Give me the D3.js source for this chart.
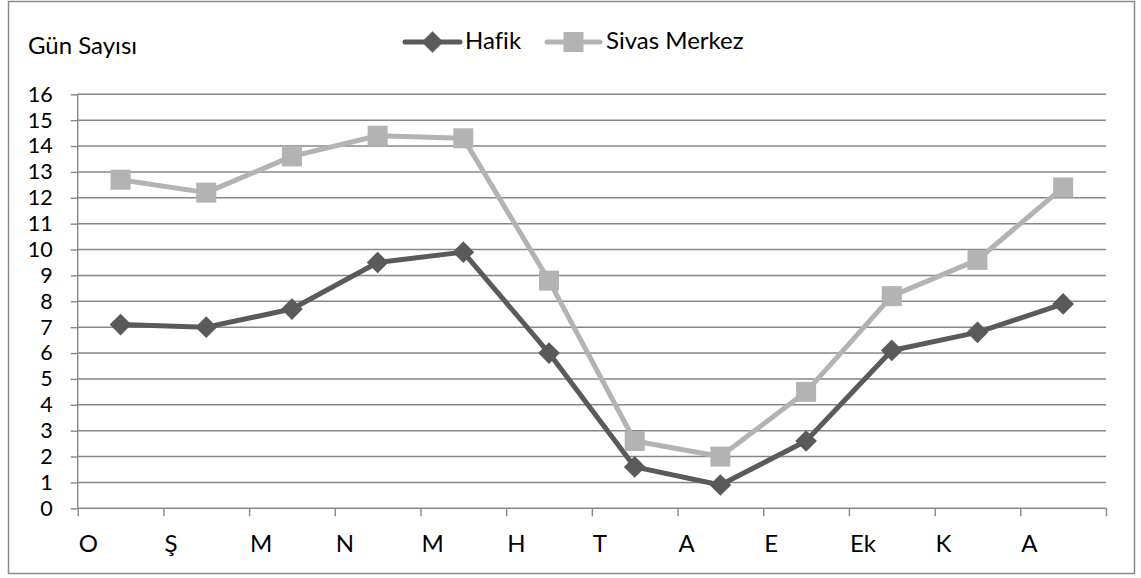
<!DOCTYPE html>
<html><head><meta charset="utf-8">
<script src="https://cdn.jsdelivr.net/npm/d3@7"></script>
<style>body{margin:0;background:#fff;} text{font-family:Lato,"Open Sans",sans-serif;fill:#000;font-variant-ligatures:none;font-feature-settings:"liga" 0;}</style>
</head><body>
<svg id="c" width="1141" height="578"></svg>
<script>
const categories = ["O","Ş","M","N","M","H","T","A","E","Ek","K","A"];
const hafik = [7.1,7.0,7.7,9.5,9.9,6.0,1.6,0.9,2.6,6.1,6.8,7.9];
const sivas = [12.7,12.2,13.6,14.4,14.3,8.8,2.6,2.0,4.5,8.2,9.6,12.4];
const yTicks = d3.range(0,17);
const seriesNames = ["Hafik","Sivas Merkez"];

const svg = d3.select("#c");
const L=77.7, R=1106, T=94.3, B=508.3;
const grid="#878787";
const FS=24;
svg.append("rect").attr("x",8.5).attr("y",1.5).attr("width",1126).attr("height",572)
  .attr("fill","#fff").attr("stroke","#8a8a8a").attr("stroke-width",1.5);

const x = d3.scaleBand().domain(d3.range(categories.length)).range([L,R]).padding(0);
const y = d3.scaleLinear().domain([0,16]).range([B,T]);

// gridlines
svg.append("g").selectAll("line").data(yTicks.filter(d=>d>0)).join("line")
  .attr("x1",L).attr("x2",R).attr("y1",d=>y(d)).attr("y2",d=>y(d))
  .attr("stroke",grid).attr("stroke-width",1.4);

// y axis
const ya = svg.append("g").attr("transform",`translate(${L},0)`)
  .call(d3.axisLeft(y).tickValues(yTicks).tickSize(7).tickPadding(18).tickFormat(d3.format("d")));
ya.select(".domain").attr("stroke",grid).attr("stroke-width",1.4).attr("d",`M0,${T}V${B}`);
ya.selectAll(".tick line").attr("stroke",grid).attr("stroke-width",1.4);
ya.selectAll(".tick text").attr("font-size",21.5).attr("font-family","Lato").attr("fill","#000");

// x axis
const boundaries = d3.range(categories.length+1);
const xb = d3.scaleLinear().domain([0,categories.length]).range([L,R]);
const xa = svg.append("g").attr("transform",`translate(0,${B})`)
  .call(d3.axisBottom(xb).tickValues(boundaries).tickSize(8).tickFormat(""));
xa.select(".domain").attr("stroke",grid).attr("stroke-width",1.4).attr("d",`M${L},0H${R}`);
xa.selectAll(".tick line").attr("stroke",grid).attr("stroke-width",1.4);
svg.append("g").selectAll("text").data(categories).join("text")
  .attr("x",(d,i)=>xb(i)+1).attr("y",552).attr("font-size",FS).text(d=>d);

// lines
const line = d3.line().x((d,i)=>x(i)+x.bandwidth()/2).y(d=>y(d));
const cols = ["#5a5a5a","#b3b3b3"];
svg.append("path").datum(sivas).attr("d",line).attr("fill","none").attr("stroke",cols[1]).attr("stroke-width",5).attr("stroke-linejoin","round");
svg.append("path").datum(hafik).attr("d",line).attr("fill","none").attr("stroke",cols[0]).attr("stroke-width",5).attr("stroke-linejoin","round");
const sq = d3.symbol().type(d3.symbolSquare).size(400);
const dm = d3.symbol().type(d3.symbolDiamond2).size(300);
svg.append("g").selectAll("path").data(sivas).join("path")
  .attr("d",sq).attr("transform",(d,i)=>`translate(${x(i)+x.bandwidth()/2},${y(d)})`).attr("fill",cols[1]);
svg.append("g").selectAll("path").data(hafik).join("path")
  .attr("d",dm).attr("transform",(d,i)=>`translate(${x(i)+x.bandwidth()/2},${y(d)})`).attr("fill",cols[0]);

// title
svg.append("text").attr("x",28).attr("y",54).attr("font-size",FS).text("Gün Sayısı");

// legend
const lg = svg.append("g");
const legendItems = [{name:seriesNames[0],x1:405,x2:460,tx:465,c:cols[0],sym:dm},{name:seriesNames[1],x1:547,x2:600,tx:606,c:cols[1],sym:sq}];
legendItems.forEach(it=>{
  lg.append("line").attr("x1",it.x1).attr("x2",it.x2).attr("y1",42).attr("y2",42).attr("stroke",it.c).attr("stroke-width",5).attr("stroke-linecap","round");
  lg.append("path").attr("d",it.sym).attr("transform",`translate(${(it.x1+it.x2)/2},42)`).attr("fill",it.c);
  lg.append("text").attr("x",it.tx).attr("y",49).attr("font-size",FS).text(it.name);
});
</script>
</body></html>
